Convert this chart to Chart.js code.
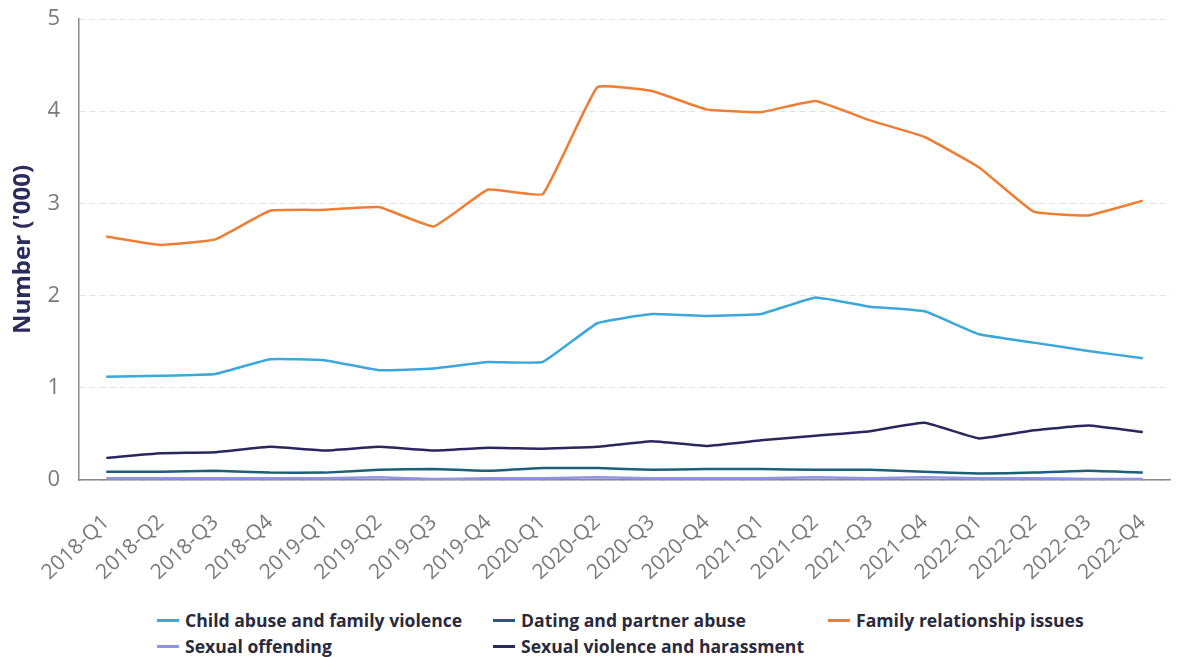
<!DOCTYPE html>
<html>
<head>
<meta charset="utf-8">
<script src="https://cdn.jsdelivr.net/npm/chart.js@4.4.1/dist/chart.umd.min.js"></script>
<style>
  html, body { margin: 0; padding: 0; background: #fff; }
  body { width: 1182px; height: 657px; overflow: hidden; font-family: "Open Sans", sans-serif; }
  #wrap { position: relative; width: 1182px; height: 592px; }
  #legend { position: relative; height: 65px; }
  .item { position: absolute; display: flex; align-items: center; font-weight: 700; font-size: 17.6px; color: #2a2a3c; white-space: nowrap; }
  .item span.swatch { display: inline-block; width: 22px; height: 3px; margin-right: 6px; }
</style>
</head>
<body>
<div id="wrap"><canvas id="chart"></canvas></div>
<div id="legend"></div>
<script>
const quarters = ['2018-Q1','2018-Q2','2018-Q3','2018-Q4','2019-Q1','2019-Q2','2019-Q3','2019-Q4',
  '2020-Q1','2020-Q2','2020-Q3','2020-Q4','2021-Q1','2021-Q2','2021-Q3','2021-Q4',
  '2022-Q1','2022-Q2','2022-Q3','2022-Q4'];

const childAbuse = [1.12,1.13,1.15,1.31,1.30,1.19,1.21,1.28,1.28,1.70,1.80,1.78,1.80,1.98,1.88,1.83,1.58,1.49,1.40,1.32];
const datingAbuse = [0.09,0.09,0.10,0.08,0.08,0.11,0.12,0.10,0.13,0.13,0.11,0.12,0.12,0.11,0.11,0.09,0.07,0.08,0.10,0.08];
const familyIssues = [2.64,2.55,2.61,2.92,2.93,2.96,2.75,3.15,3.10,4.26,4.22,4.02,3.99,4.11,3.90,3.72,3.39,2.91,2.87,3.03];
const sexualOffending = [0.02,0.02,0.02,0.02,0.02,0.03,0.01,0.02,0.02,0.03,0.02,0.02,0.02,0.03,0.02,0.03,0.02,0.02,0.01,0.01];
const sexualViolence = [0.24,0.29,0.30,0.36,0.32,0.36,0.32,0.35,0.34,0.36,0.42,0.37,0.43,0.48,0.53,0.62,0.45,0.54,0.59,0.52];

const seriesNames = ['Child abuse and family violence','Dating and partner abuse','Family relationship issues','Sexual offending','Sexual violence and harassment'];
const seriesColors = ['#3ba7da','#1b5f78','#ef7d32','#8f93e6','#28285e'];
const seriesData = [childAbuse, datingAbuse, familyIssues, sexualOffending, sexualViolence];

// legend slots (row, column start x)
const legendSlots = [[0,157],[0,493],[0,828],[1,157],[1,493]];

const datasets = seriesNames.map((name, i) => ({
  label: name,
  data: seriesData[i],
  borderColor: seriesColors[i],
  backgroundColor: seriesColors[i],
  borderWidth: 2.5,
  pointRadius: 0,
  tension: 0.1
}));

const chart = new Chart(document.getElementById('chart').getContext('2d'), {
  type: 'line',
  data: { labels: quarters, datasets: datasets },
  options: {
    responsive: true,
    maintainAspectRatio: false,
    animation: false,
    layout: { padding: { top: 0, right: 0, left: 0, bottom: 0 } },
    plugins: {
      legend: { display: false },
      tooltip: { enabled: false }
    },
    scales: {
      x: {
        offset: true,
        grid: { display: false },
        border: { display: true, color: '#8a8a8a', width: 1.5 },
        ticks: {
          minRotation: 43, maxRotation: 43, autoSkip: false,
          color: '#7a7a7a', padding: 22,
          font: { family: 'Open Sans', size: 21 }
        },
        afterFit: (s) => { s.height = 112; s.paddingTop = 0; }
      },
      y: {
        min: 0, max: 5,
        grid: { color: '#e3e3e3', drawTicks: false },
        border: { display: true, color: '#8a8a8a', width: 1.5, dash: [6, 4] },
        ticks: {
          stepSize: 1, color: '#7a7a7a', padding: 19,
          font: { family: 'Open Sans', size: 22 }
        },
        title: {
          display: true, text: "Number ('000)", color: '#2b2b5e',
          padding: { top: 9, bottom: 0 },
          font: { family: 'Open Sans', size: 24, weight: 'bold' }
        },
        afterFit: (s) => { s.width = 79; s.paddingTop = 19; }
      }
    }
  }
});

// HTML legend built from the chart's datasets
const legend = document.getElementById('legend');
chart.data.datasets.forEach((ds, i) => {
  const el = document.createElement('div');
  el.className = 'item';
  el.style.left = legendSlots[i][1] + 'px';
  el.style.top = (legendSlots[i][0] * 26 + 16) + 'px';
  el.innerHTML = '<span class="swatch" style="background:' + ds.borderColor + '"></span>' + ds.label;
  legend.appendChild(el);
});
</script>
</body>
</html>
